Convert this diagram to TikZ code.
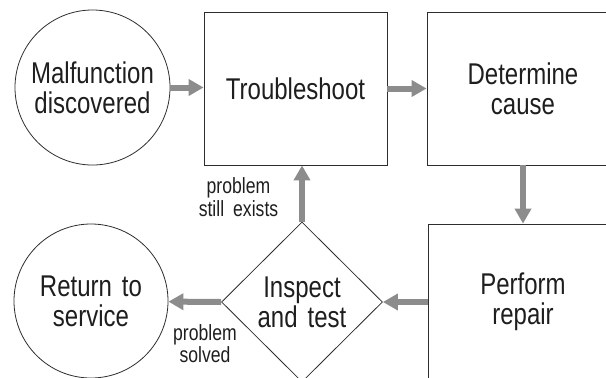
\documentclass[tikz,border=0pt]{standalone}
\usepackage{fontspec}
\setmainfont{Liberation Sans}[FakeStretch=0.80]
\usetikzlibrary{shapes.geometric,arrows.meta}
\definecolor{arrowgray}{RGB}{140,140,140}
\definecolor{edgecol}{RGB}{45,45,45}
\definecolor{textcol}{RGB}{30,30,30}
\begin{document}
\begin{tikzpicture}[x=1bp,y=-1bp,
  big/.style={font=\fontsize{30bp}{30bp}\selectfont, align=center, text=textcol},
  small/.style={font=\fontsize{22bp}{22.5bp}\selectfont, align=center, text=textcol},
  shapeline/.style={draw=edgecol, line width=0.8bp, inner sep=0pt},
  roundnode/.style={shapeline, circle, big},
  boxnode/.style={shapeline, rectangle, big},
  decisionnode/.style={shapeline, diamond, big},
  flow/.style={draw=arrowgray, line width=6bp, -{Triangle[length=15bp,width=16bp]}}
]
\useasboundingbox (0,0) rectangle (606,377);
\clip (0,0) rectangle (606,377);
\node[roundnode, minimum size=155bp] (mal) at (92.5,87.5) {Malfunction\\discovered};
\node[boxnode, minimum width=183bp, minimum height=153bp] (trb) at (295.5,88.5) {Troubleshoot};
\node[boxnode, minimum width=192bp, minimum height=153bp] (det) at (523,88.5) {Determine\\cause};
\node[boxnode, minimum width=190bp, minimum height=156bp] (per) at (523,302) {Perform\\repair};
\node[decisionnode, minimum width=161bp, minimum height=160bp] (dia) at (302,302) {Inspect\\and\hspace{10bp}test};
\node[roundnode, minimum size=154bp] (ret) at (91,301) {Return\hspace{10bp}to\\service};
\node[small] (lbl1) at (238.5,197.3) {problem\\still\hspace{9bp}exists};
\node[small] (lbl2) at (205,343.8) {problem\\solved};
\draw[flow] (mal.east) -- (mal.east -| trb.west);
\draw[flow] (trb.east) -- (det.west);
\draw[flow] (det.south) -- (per.north);
\draw[flow] (per.west) -- (dia.east);
\draw[flow] (dia.north) -- (dia.north |- trb.south);
\draw[flow] (dia.west) -- (ret);
\end{tikzpicture}
\end{document}
